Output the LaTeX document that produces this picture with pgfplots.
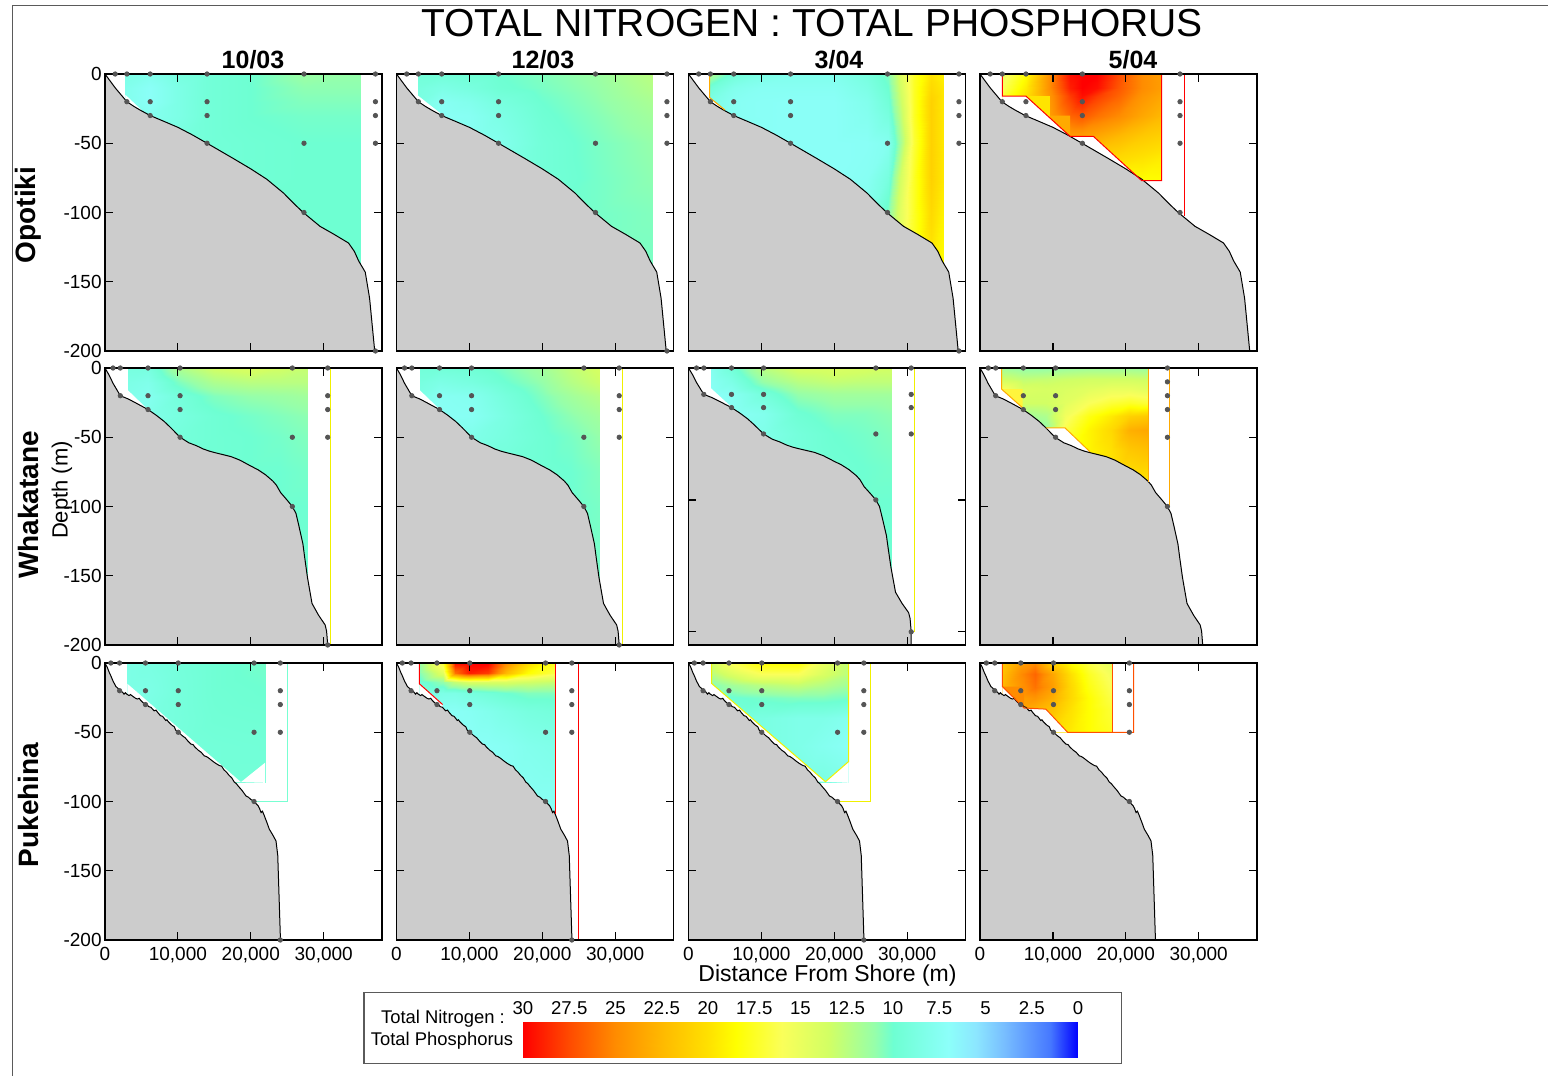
\documentclass[border=0pt]{standalone}
\usepackage{pgfplots}
\pgfplotsset{compat=1.18}
\usepackage{pgfplotstable}
\usepackage{fontspec}
\setmainfont{Liberation Sans}
\definecolor{seabed}{RGB}{204,204,204}
\definecolor{dotc}{RGB}{85,85,85}
\definecolor{lnyellow}{RGB}{240,240,0}
\definecolor{lnorange}{RGB}{255,170,0}
\definecolor{lnred}{RGB}{255,0,0}
\definecolor{lnaqua}{RGB}{120,255,210}
\definecolor{lnor}{RGB}{255,80,0}
\definecolor{blkyel}{RGB}{255,228,0}
\definecolor{blkor}{RGB}{255,170,0}
\definecolor{blkor2}{RGB}{255,140,0}
\definecolor{blkyel2}{RGB}{255,245,60}
\definecolor{framec}{RGB}{90,90,90}
\pgfplotsset{
 colormap={tnp}{rgb255(0pt)=(0,0,255) rgb255(15pt)=(70,120,255) rgb255(40pt)=(120,190,255) rgb255(55pt)=(140,230,255) rgb255(70pt)=(140,255,250) rgb255(100pt)=(110,255,210) rgb255(110pt)=(150,255,170) rgb255(135pt)=(210,255,100) rgb255(160pt)=(250,255,90) rgb255(185pt)=(255,255,0) rgb255(200pt)=(255,225,0) rgb255(225pt)=(255,185,0) rgb255(250pt)=(255,140,0) rgb255(275pt)=(255,75,0) rgb255(300pt)=(255,0,0)},
 panel/.style={
  scale only axis, width=138.5pt, height=138.5pt, anchor=north west,
  xmin=0, xmax=38000, ymin=-200, ymax=0,
  xtick={0,10000,20000,30000}, ytick={-200,-150,-100,-50,0},
  xticklabels={,,,}, yticklabels={,,,,},
  scaled ticks=false,
  tick align=inside, tick pos=both, major tick length=3.8pt,
  axis on top, clip=false,
  axis line style={line width=0.6pt},
  tick style={line width=0.6pt, black},
  tick label style={font=\fontsize{9.5}{11}\selectfont},
  yticklabel style={inner xsep=1.5pt},
  colormap name=tnp, point meta min=0, point meta max=30,
  /pgf/number format/assume math mode=true,
 },
 ylab/.style={yticklabels={-200,-150,-100,-50,0}},
 xlab/.style={xticklabels={0,{10,000},{20,000},{30,000}}},
 dots/.style={only marks, mark=*, mark size=1.1pt, dotc},
 bed/.style={fill=seabed, draw=black, line width=0.5pt},
 mask/.style={fill=white, draw=none},
 field/.style={surf, shader=interp, point meta=\thisrow{c}},
}
% bathymetry profiles
\pgfplotstableread{
x y
0 0
700 -5
1400 -10
2200 -15
3000 -20
4000 -23.5
4800 -26
6200 -30
8000 -34
10000 -38.5
12000 -44
14000 -50
15800 -55.5
17600 -61
20000 -68.5
22200 -76
24500 -86
26000 -94
27200 -100
29500 -110
31500 -116
33400 -122
34200 -128
34800 -135
35700 -143
36300 -162
37000 -200
0 -200
}\profA
\pgfplotstableread{
x y
0 0
550 -5
1100 -11
2100 -20
3250 -22.5
4500 -26
5900 -30
7000 -34
8100 -38.5
9000 -43
10300 -50
11500 -54
12500 -56
13500 -58.5
14300 -60
15000 -61
17300 -64
18500 -66.5
19900 -70.5
21000 -73.5
22000 -77
23000 -81.5
23500 -84.5
24100 -90
25000 -95.5
25700 -100
26200 -105
26600 -114
27150 -127
27400 -137
27770 -151
28000 -158
28400 -170
29300 -178.5
30200 -185.5
30400 -190
30550 -200
0 -200
}\profB
\pgfplotstableread{
x y
0 0
550 -5
1100 -11
2100 -20
3250 -22.5
4500 -26
5900 -30
7000 -34
8100 -38.5
9000 -43
10300 -50
11500 -54
12500 -56
13500 -58.5
14300 -60
15000 -61
17300 -64
18500 -66.5
19900 -70.5
21000 -73.5
22000 -77
23000 -81.5
23500 -84.5
24100 -90
25000 -95.5
25700 -100
26200 -105
26600 -114
27150 -127
27400 -137
27770 -151
28000 -158
28400 -170
29300 -178.5
30200 -185.5
30400 -190
30550 -200
30550 -210
0 -210
}\profBdeep
\pgfplotstableread{
x y
0 0
300 -3
600 -7
780 -9
1100 -13
1500 -17
1930 -19
2200 -20.5
2400 -21
2610 -22.5
2800 -21.5
3000 -22.5
3300 -23.5
3500 -22.8
3800 -24
4200 -25.5
4450 -26
4700 -25.5
4900 -27
5200 -28.5
5500 -30
5800 -30.5
6000 -31.5
6300 -32
6740 -34.5
7000 -34
7200 -35.5
7600 -38
7900 -38.5
8340 -41.5
8500 -41
8700 -42.5
9200 -45
9500 -46
9700 -48.5
10040 -50
10300 -51
10600 -52.5
11000 -54
11400 -56.5
11780 -58.5
12100 -59
12300 -60.5
12800 -63
13200 -64.5
13610 -67
13900 -67.5
14200 -68.5
14800 -71
15200 -72.5
15680 -74
16000 -74.5
16300 -77
16700 -79
17000 -81
17400 -83
17740 -86
18000 -87
18300 -89
18800 -92
19340 -96
19700 -97
20000 -98.5
20490 -100
20700 -101.5
21000 -103
21200 -105
21410 -108
21600 -107
21800 -109.5
22200 -115
22540 -120
23000 -124
23460 -128.5
23700 -139
24070 -200
0 -200
}\profC
% sampling points
\pgfplotstableread{
x y
1400 0
3000 0
3000 -20
6200 0
6200 -20
6200 -30
14000 0
14000 -20
14000 -30
14000 -50
27300 0
27300 -50
27300 -100
37100 0
37100 -20
37100 -30
37100 -50
37100 -200
}\dotsA
\pgfplotstableread{
x y
1400 0
3060 0
3060 -20
6300 0
6300 -20
6300 -30
14040 0
14040 -20
14040 -30
14040 -50
27440 0
27440 -20
27440 -30
27440 -50
27440 -100
}\dotsAD
\pgfplotstableread{
x y
1100 0
2100 0
2100 -20
5900 0
5900 -20
5900 -30
10300 0
10300 -20
10300 -30
10300 -50
25700 0
25700 -50
25700 -100
30550 0
30550 -20
30550 -30
30550 -50
30550 -200
}\dotsB
\pgfplotstableread{
x y
1140 0
2150 0
2150 -20
5940 0
5940 -20
5940 -30
10370 0
10370 -20
10370 -30
10370 -50
25710 0
25710 -10
25710 -20
25710 -30
25710 -50
25710 -100
}\dotsBD
\pgfplotstableread{
x y
800 0
2000 0
2000 -20
5550 0
5550 -20
5550 -30
10050 0
10050 -20
10050 -30
10050 -50
20450 0
20450 -50
20450 -100
24050 0
24050 -20
24050 -30
24050 -50
24050 -200
}\dotsC
\pgfplotstableread{
x y
870 0
2020 0
2020 -20
5590 0
5590 -20
5590 -30
10080 0
10080 -20
10080 -30
10080 -50
20490 0
20490 -20
20490 -30
20490 -50
20490 -100
}\dotsCD
\begin{document}
\begin{tikzpicture}
\useasboundingbox (0pt,0pt) rectangle (774pt,-538pt);
\draw[framec, line width=0.5pt] (6pt,-538pt) -- (6pt,-2.5pt) -- (774pt,-2.5pt);
\node[font=\fontsize{19.5}{22}\selectfont] at (406pt,-11.5pt) {TOTAL NITROGEN : TOTAL PHOSPHORUS};
\node[font=\fontsize{12.5}{14}\selectfont\bfseries] at (126.5pt,-30pt) {10/03};
\node[font=\fontsize{12.5}{14}\selectfont\bfseries] at (271.5pt,-30pt) {12/03};
\node[font=\fontsize{12.5}{14}\selectfont\bfseries] at (419.5pt,-30pt) {3/04};
\node[font=\fontsize{12.5}{14}\selectfont\bfseries] at (566.5pt,-30pt) {5/04};
\node[font=\fontsize{14}{16}\selectfont\bfseries, rotate=90] at (14pt,-107.5pt) {Opotiki};
\node[font=\fontsize{14}{16}\selectfont\bfseries, rotate=90] at (14pt,-252.5pt) {Whakatane};
\node[font=\fontsize{14}{16}\selectfont\bfseries, rotate=90] at (14pt,-402.5pt) {Pukehina};
\node[font=\fontsize{11}{13}\selectfont, rotate=90] at (31pt,-245pt) {Depth (m)};
\node[font=\fontsize{11.5}{13}\selectfont] at (413.75pt,-488pt) {Distance From Shore (m)};

% ---------------- Row 1: Opotiki ----------------
\begin{axis}[panel, ylab, at={(52.5pt,-37pt)}]
\addplot[field, mesh/cols=7] table[row sep=\\]{x y c\\
2800 0 8.5\\ 6200 0 8\\ 10000 0 9\\ 14000 0 9.5\\ 20000 0 10\\ 27300 0 11.2\\ 35100 0 11\\
2800 -10 8\\ 6200 -10 7.2\\ 10000 -10 8.5\\ 14000 -10 9.5\\ 20000 -10 10\\ 27300 -10 10.8\\ 35100 -10 10.8\\
2800 -20 8\\ 6200 -20 7.2\\ 10000 -20 8.5\\ 14000 -20 9.5\\ 20000 -20 10\\ 27300 -20 10.5\\ 35100 -20 10.5\\
2800 -30 8.5\\ 6200 -30 7.8\\ 10000 -30 8.5\\ 14000 -30 9.5\\ 20000 -30 10\\ 27300 -30 10.2\\ 35100 -30 10.2\\
2800 -50 9\\ 6200 -50 8.5\\ 10000 -50 9\\ 14000 -50 9.5\\ 20000 -50 9.8\\ 27300 -50 10\\ 35100 -50 10\\
2800 -75 9.5\\ 6200 -75 9.5\\ 10000 -75 9.5\\ 14000 -75 9.5\\ 20000 -75 9.8\\ 27300 -75 10\\ 35100 -75 10\\
2800 -100 9.8\\ 6200 -100 9.8\\ 10000 -100 9.8\\ 14000 -100 9.8\\ 20000 -100 10\\ 27300 -100 10\\ 35100 -100 10\\
2800 -140 10\\ 6200 -140 10\\ 10000 -140 10\\ 14000 -140 10\\ 20000 -140 10\\ 27300 -140 10\\ 35100 -140 10\\
};
\addplot[mask] table[row sep=\\]{x y\\ 2800 -15\\ 5000 -26\\ 5000 -40\\ 2800 -40\\};
\addplot[bed] table {\profA};
\addplot[dots] table {\dotsA};
\end{axis}

\begin{axis}[panel, at={(198.25pt,-37pt)}]
\addplot[field, mesh/cols=7] table[row sep=\\]{x y c\\
2900 0 9.5\\ 6200 0 9.5\\ 10000 0 9.8\\ 14000 0 10\\ 20000 0 10.5\\ 27400 0 11.2\\ 35080 0 12.5\\
2900 -10 9\\ 6200 -10 8.5\\ 10000 -10 9\\ 14000 -10 9.8\\ 20000 -10 10.3\\ 27400 -10 11\\ 35080 -10 12.2\\
2900 -20 8.8\\ 6200 -20 7.5\\ 10000 -20 8\\ 14000 -20 9\\ 20000 -20 10\\ 27400 -20 10.8\\ 35080 -20 11.8\\
2900 -30 8.8\\ 6200 -30 7.3\\ 10000 -30 7.5\\ 14000 -30 8.5\\ 20000 -30 9.8\\ 27400 -30 10.6\\ 35080 -30 11.5\\
2900 -50 9\\ 6200 -50 8\\ 10000 -50 7.5\\ 14000 -50 8\\ 20000 -50 9.5\\ 27400 -50 10.3\\ 35080 -50 11\\
2900 -75 9.5\\ 6200 -75 9\\ 10000 -75 8.5\\ 14000 -75 8.5\\ 20000 -75 9.5\\ 27400 -75 10.2\\ 35080 -75 10.8\\
2900 -100 10\\ 6200 -100 10\\ 10000 -100 9.8\\ 14000 -100 9.5\\ 20000 -100 9.8\\ 27400 -100 10.2\\ 35080 -100 10.5\\
2900 -140 10\\ 6200 -140 10\\ 10000 -140 10\\ 14000 -140 10\\ 20000 -140 10\\ 27400 -140 10.2\\ 35080 -140 10.3\\
};
\addplot[mask] table[row sep=\\]{x y\\ 2900 -15.4\\ 5940 -28\\ 5940 -40\\ 2900 -40\\};
\addplot[bed] table {\profA};
\addplot[dots] table {\dotsA};
\end{axis}

\begin{axis}[panel, at={(344.25pt,-37pt)}]
\addplot[field, mesh/cols=11] table[row sep=\\]{x y c\\
2900 0 12\\ 6200 0 9.5\\ 10000 0 8.5\\ 14000 0 8\\ 20000 0 8\\ 24500 0 9\\ 27400 0 10.5\\ 29000 0 14\\ 31000 0 17.5\\ 33300 0 20\\ 35030 0 19\\
2900 -10 9.5\\ 6200 -10 8\\ 10000 -10 7.5\\ 14000 -10 7.5\\ 20000 -10 7.5\\ 24500 -10 8.5\\ 27400 -10 10\\ 29000 -10 13.5\\ 31000 -10 17.5\\ 33300 -10 20.5\\ 35030 -10 19.5\\
2900 -20 8.5\\ 6200 -20 7.5\\ 10000 -20 7.3\\ 14000 -20 7.2\\ 20000 -20 7.2\\ 24500 -20 8\\ 27400 -20 9.5\\ 29000 -20 13\\ 31000 -20 17.5\\ 33300 -20 21\\ 35030 -20 19.5\\
2900 -30 8.5\\ 6200 -30 7.5\\ 10000 -30 7.3\\ 14000 -30 7.2\\ 20000 -30 7.2\\ 24500 -30 7.8\\ 27400 -30 9\\ 29000 -30 12.5\\ 31000 -30 17.5\\ 33300 -30 21\\ 35030 -30 19.5\\
2900 -50 8.5\\ 6200 -50 8\\ 10000 -50 7.3\\ 14000 -50 7.2\\ 20000 -50 7.2\\ 24500 -50 7.3\\ 27400 -50 7.8\\ 29000 -50 11.5\\ 31000 -50 17\\ 33300 -50 21\\ 35030 -50 19.5\\
2900 -75 8.5\\ 6200 -75 8\\ 10000 -75 7.5\\ 14000 -75 7.2\\ 20000 -75 7.2\\ 24500 -75 7.5\\ 27400 -75 9\\ 29000 -75 13.5\\ 31000 -75 17.5\\ 33300 -75 21\\ 35030 -75 19.5\\
2900 -100 8.5\\ 6200 -100 8.5\\ 10000 -100 8\\ 14000 -100 7.5\\ 20000 -100 7.5\\ 24500 -100 8\\ 27400 -100 10.5\\ 29000 -100 14.5\\ 31000 -100 17.5\\ 33300 -100 20.5\\ 35030 -100 19\\
2900 -140 8.5\\ 6200 -140 8.5\\ 10000 -140 8\\ 14000 -140 7.5\\ 20000 -140 7.5\\ 24500 -140 8.5\\ 27400 -140 11\\ 29000 -140 15\\ 31000 -140 17.5\\ 33300 -140 19.5\\ 35030 -140 18.5\\
};
\addplot[mask] table[row sep=\\]{x y\\ 2900 -17\\ 5000 -26\\ 5000 -40\\ 2900 -40\\};
\addplot[bed] table {\profA};
\addplot[lnorange, line width=0.5pt] table[row sep=\\]{x y\\ 2900 0\\ 2900 -17\\ 5000 -26\\};
\addplot[lnyellow, line width=0.8pt] table[row sep=\\]{x y\\ 0 -199.5\\ 37000 -199.5\\};
\addplot[dots] table {\dotsA};
\end{axis}

\begin{axis}[panel, at={(490pt,-37pt)}]
\addplot[field, mesh/cols=9] table[row sep=\\]{x y c\\
3060 0 15\\ 6310 0 18.5\\ 9600 0 25\\ 12350 0 29.5\\ 14040 0 30\\ 16000 0 30\\ 19000 0 27.5\\ 22180 0 25\\ 24920 0 24\\
3060 -10 16\\ 6310 -10 19.5\\ 9600 -10 25\\ 12350 -10 29\\ 14040 -10 30\\ 16000 -10 29.5\\ 19000 -10 27\\ 22180 -10 25\\ 24920 -10 24\\
3060 -16 17\\ 6310 -16 20\\ 9600 -16 24.5\\ 12350 -16 28\\ 14040 -16 29.5\\ 16000 -16 28\\ 19000 -16 26.5\\ 22180 -16 24.5\\ 24920 -16 23.5\\
3060 -30 18\\ 6310 -30 20\\ 9600 -30 24\\ 12350 -30 26.5\\ 14040 -30 27\\ 16000 -30 26\\ 19000 -30 25\\ 22180 -30 23.5\\ 24920 -30 22.5\\
3060 -45 18.5\\ 6310 -45 20\\ 9600 -45 23\\ 12350 -45 24\\ 14040 -45 24\\ 16000 -45 23.5\\ 19000 -45 22.5\\ 22180 -45 21.5\\ 24920 -45 21\\
3060 -60 19\\ 6310 -60 19.5\\ 9600 -60 21\\ 12350 -60 21.5\\ 14040 -60 21.5\\ 16000 -60 21\\ 19000 -60 20.5\\ 22180 -60 20\\ 24920 -60 19.5\\
3060 -77 18.5\\ 6310 -77 19\\ 9600 -77 19.5\\ 12350 -77 19.5\\ 14040 -77 19.5\\ 16000 -77 19\\ 19000 -77 18.5\\ 22180 -77 18.5\\ 24920 -77 18.5\\
};
\addplot[mask] table[row sep=\\]{x y\\ 3060 -16\\ 6310 -16\\ 12350 -45\\ 15550 -45\\ 22180 -77\\ 3060 -77\\};
\addplot[fill=blkyel, draw=none] table[row sep=\\]{x y\\ 6310 -16\\ 9600 -16\\ 9600 -31.8\\};
\addplot[fill=blkor, draw=none] table[row sep=\\]{x y\\ 9600 -31.8\\ 9600 -30\\ 12350 -30\\ 12350 -45\\};
\addplot[bed] table {\profA};
\addplot[lnred, line width=0.5pt] table[row sep=\\]{x y\\ 3060 0\\ 3060 -16\\ 6310 -16\\ 12350 -45\\ 15550 -45\\ 22180 -77\\ 24920 -77\\ 24920 0\\};
\addplot[lnred, line width=0.5pt] table[row sep=\\]{x y\\ 28030 0\\ 28030 -102.5\\};
\addplot[dots] table {\dotsAD};
\end{axis}

% ---------------- Row 2: Whakatane ----------------
\begin{axis}[panel, ylab, at={(52.5pt,-184pt)}]
\addplot[field, mesh/cols=7] table[row sep=\\]{x y c\\
3130 0 9\\ 5880 0 9\\ 10300 0 12\\ 15000 0 13.5\\ 20000 0 14\\ 24000 0 13.5\\ 27770 0 13\\
3130 -10 8.5\\ 5880 -10 8.2\\ 10300 -10 10.5\\ 15000 -10 12\\ 20000 -10 12.5\\ 24000 -10 12.5\\ 27770 -10 12.5\\
3130 -20 8.2\\ 5880 -20 7.8\\ 10300 -20 9.3\\ 15000 -20 10.5\\ 20000 -20 11\\ 24000 -20 11.2\\ 27770 -20 11.5\\
3130 -35 8.3\\ 5880 -35 8.2\\ 10300 -35 9\\ 15000 -35 9.8\\ 20000 -35 10.2\\ 24000 -35 10.5\\ 27770 -35 10.8\\
3130 -50 8.8\\ 5880 -50 8.8\\ 10300 -50 9.3\\ 15000 -50 9.8\\ 20000 -50 10\\ 24000 -50 10.2\\ 27770 -50 10.5\\
3130 -75 9.3\\ 5880 -75 9.3\\ 10300 -75 9.5\\ 15000 -75 9.8\\ 20000 -75 10\\ 24000 -75 10\\ 27770 -75 10.2\\
3130 -100 9.8\\ 5880 -100 9.8\\ 10300 -100 9.8\\ 15000 -100 10\\ 20000 -100 10\\ 24000 -100 10\\ 27770 -100 10\\
3130 -151 10\\ 5880 -151 10\\ 10300 -151 10\\ 15000 -151 10\\ 20000 -151 10\\ 24000 -151 10\\ 27770 -151 10\\
};
\addplot[mask] table[row sep=\\]{x y\\ 3130 -16\\ 5880 -30\\ 5880 -40\\ 3130 -40\\};
\addplot[bed] table {\profB};
\addplot[lnyellow, line width=0.5pt] table[row sep=\\]{x y\\ 30950 0\\ 30950 -200\\};
\addplot[dots] table {\dotsB};
\end{axis}

\begin{axis}[panel, at={(198.25pt,-184pt)}]
\addplot[field, mesh/cols=7] table[row sep=\\]{x y c\\
3190 0 9.5\\ 5950 0 9.5\\ 10300 0 9.8\\ 15000 0 10.5\\ 20000 0 11.5\\ 24000 0 12.8\\ 27890 0 13.8\\
3190 -10 9\\ 5950 -10 8.5\\ 10300 -10 9\\ 15000 -10 10\\ 20000 -10 11\\ 24000 -10 12.3\\ 27890 -10 13.3\\
3190 -20 8.5\\ 5950 -20 7.5\\ 10300 -20 7.8\\ 15000 -20 9.2\\ 20000 -20 10.5\\ 24000 -20 11.5\\ 27890 -20 12.3\\
3190 -35 8.5\\ 5950 -35 7.3\\ 10300 -35 7.5\\ 15000 -35 8.8\\ 20000 -35 10\\ 24000 -35 10.8\\ 27890 -35 11.5\\
3190 -50 9\\ 5950 -50 8.3\\ 10300 -50 8.3\\ 15000 -50 9\\ 20000 -50 9.8\\ 24000 -50 10.3\\ 27890 -50 11\\
3190 -75 9.5\\ 5950 -75 9.3\\ 10300 -75 9.3\\ 15000 -75 9.5\\ 20000 -75 9.8\\ 24000 -75 10\\ 27890 -75 10.5\\
3190 -100 10\\ 5950 -100 10\\ 10300 -100 10\\ 15000 -100 10\\ 20000 -100 10\\ 24000 -100 10\\ 27890 -100 10.3\\
3190 -156 10\\ 5950 -156 10\\ 10300 -156 10\\ 15000 -156 10\\ 20000 -156 10\\ 24000 -156 10\\ 27890 -156 10.2\\
};
\addplot[mask] table[row sep=\\]{x y\\ 3190 -16\\ 5950 -30\\ 5950 -40\\ 3190 -40\\};
\addplot[bed] table {\profB};
\addplot[lnyellow, line width=0.5pt] table[row sep=\\]{x y\\ 31070 0\\ 31070 -200\\};
\addplot[dots] table {\dotsB};
\end{axis}

\begin{axis}[panel, at={(344.25pt,-184pt)}, ymin=-210, ytick={-200,-100,0}]
\addplot[field, mesh/cols=7] table[row sep=\\]{x y c\\
3110 0 7.8\\ 5860 0 9.5\\ 10300 0 12.5\\ 15000 0 13.8\\ 20000 0 14\\ 24000 0 13.8\\ 27840 0 13.5\\
3110 -10 7.5\\ 5860 -10 8.5\\ 10300 -10 11.2\\ 15000 -10 12.5\\ 20000 -10 13\\ 24000 -10 12.8\\ 27840 -10 12.8\\
3110 -20 7.3\\ 5860 -20 7.5\\ 10300 -20 9.3\\ 15000 -20 11\\ 20000 -20 11.5\\ 24000 -20 11.5\\ 27840 -20 11.5\\
3110 -35 7.3\\ 5860 -35 7.3\\ 10300 -35 8\\ 15000 -35 9.8\\ 20000 -35 10.5\\ 24000 -35 10.5\\ 27840 -35 10.8\\
3110 -50 7.8\\ 5860 -50 7.8\\ 10300 -50 8.3\\ 15000 -50 9.3\\ 20000 -50 10\\ 24000 -50 10.2\\ 27840 -50 10.5\\
3110 -75 8.8\\ 5860 -75 8.8\\ 10300 -75 8.8\\ 15000 -75 9.3\\ 20000 -75 9.8\\ 24000 -75 10\\ 27840 -75 10.2\\
3110 -100 9.3\\ 5860 -100 9.3\\ 10300 -100 9.3\\ 15000 -100 9.5\\ 20000 -100 9.8\\ 24000 -100 10\\ 27840 -100 10\\
3110 -158 10\\ 5860 -158 10\\ 10300 -158 10\\ 15000 -158 10\\ 20000 -158 10\\ 24000 -158 10\\ 27840 -158 10\\
};
\addplot[mask] table[row sep=\\]{x y\\ 3110 -15.5\\ 5860 -29.4\\ 5860 -40\\ 3110 -40\\};
\addplot[bed] table {\profBdeep};
\addplot[lnyellow, line width=0.5pt] table[row sep=\\]{x y\\ 31040 0\\ 31040 -200\\};
\addplot[dots] table {\dotsB};
\end{axis}

\begin{axis}[panel, at={(490pt,-184pt)}]
\addplot[field, mesh/cols=8] table[row sep=\\]{x y c\\
2970 0 11.5\\ 5940 0 11\\ 9040 0 11\\ 11650 0 11.3\\ 15000 0 11.5\\ 18000 0 11.5\\ 20500 0 11.5\\ 23060 0 11.3\\
2970 -8 13.5\\ 5940 -8 12.8\\ 9040 -8 13\\ 11650 -8 13.3\\ 15000 -8 13.5\\ 18000 -8 13.5\\ 20500 -8 13.5\\ 23060 -8 13.3\\
2970 -15 16\\ 5940 -15 14\\ 9040 -15 13.8\\ 11650 -15 14\\ 15000 -15 14.5\\ 18000 -15 15\\ 20500 -15 15\\ 23060 -15 14.5\\
2970 -25 17.5\\ 5940 -25 13.5\\ 9040 -25 13.5\\ 11650 -25 14.5\\ 15000 -25 16\\ 18000 -25 17\\ 20500 -25 17.5\\ 23060 -25 17\\
2970 -35 17.5\\ 5940 -35 11.5\\ 9040 -35 12\\ 11650 -35 15.5\\ 15000 -35 18\\ 18000 -35 19.5\\ 20500 -35 21\\ 23060 -35 21.5\\
2970 -45 17.5\\ 5940 -45 10.5\\ 9040 -45 11\\ 11650 -45 16.5\\ 15000 -45 19\\ 18000 -45 20.5\\ 20500 -45 23\\ 23060 -45 23.5\\
2970 -60 17.5\\ 5940 -60 11.5\\ 9040 -60 13.5\\ 11650 -60 17.5\\ 15000 -60 19\\ 18000 -60 20\\ 20500 -60 21.5\\ 23060 -60 22\\
2970 -85 17.5\\ 5940 -85 15\\ 9040 -85 16.5\\ 11650 -85 18\\ 15000 -85 19\\ 18000 -85 19.5\\ 20500 -85 19.5\\ 23060 -85 19.5\\
};
\addplot[mask] table[row sep=\\]{x y\\ 2970 -15.3\\ 5850 -28.8\\ 5850 -40\\ 2970 -40\\};
\addplot[mask] table[row sep=\\]{x y\\ 9040 -43.2\\ 11650 -43.2\\ 15070 -60.4\\ 15070 -70\\ 9040 -70\\};
\addplot[fill=blkyel2, draw=none] table[row sep=\\]{x y\\ 2970 -15.3\\ 5850 -15.3\\ 5850 -28.8\\};
\addplot[bed] table {\profB};
\addplot[lnorange, line width=0.5pt] table[row sep=\\]{x y\\ 2970 0\\ 2970 -15.3\\ 5850 -28.8\\};
\addplot[lnorange, line width=0.5pt] table[row sep=\\]{x y\\ 9040 -43.2\\ 11650 -43.2\\ 15070 -60.4\\};
\addplot[lnorange, line width=0.5pt] table[row sep=\\]{x y\\ 23060 -82\\ 23060 0\\};
\addplot[lnorange, line width=0.5pt] table[row sep=\\]{x y\\ 25940 0\\ 25940 -100\\};
\addplot[dots] table {\dotsBD};
\end{axis}

% ---------------- Row 3: Pukehina ----------------
\begin{axis}[panel, ylab, xlab, at={(52.5pt,-331.5pt)}]
\addplot[field, mesh/cols=5] table[row sep=\\]{x y c\\
3070 0 8.5\\ 6000 0 8.8\\ 10000 0 9.3\\ 15000 0 9.8\\ 21960 0 10.2\\
3070 -20 8.5\\ 6000 -20 8.5\\ 10000 -20 9.2\\ 15000 -20 9.8\\ 21960 -20 10\\
3070 -40 9\\ 6000 -40 8.8\\ 10000 -40 9.2\\ 15000 -40 9.7\\ 21960 -40 9.8\\
3070 -60 9.3\\ 6000 -60 9.3\\ 10000 -60 9.3\\ 15000 -60 9.5\\ 21960 -60 9.6\\
3070 -86 9.5\\ 6000 -86 9.5\\ 10000 -86 9.5\\ 15000 -86 9.5\\ 21960 -86 9.5\\
};
\addplot[mask] table[row sep=\\]{x y\\ 3070 -15\\ 18650 -86\\ 3070 -86\\};
\addplot[mask] table[row sep=\\]{x y\\ 18650 -86\\ 21960 -72\\ 21960 -86.5\\};
\addplot[bed] table {\profC};
\addplot[lnaqua, line width=0.5pt] table[row sep=\\]{x y\\ 24980 0\\ 24980 -100\\ 20030 -100\\};
\addplot[dots] table {\dotsC};
\end{axis}

\begin{axis}[panel, xlab, at={(198.25pt,-331.5pt)}]
\addplot[field, mesh/cols=8] table[row sep=\\]{x y c\\
3140 0 11\\ 6330 0 17\\ 8000 0 29.5\\ 10000 0 30\\ 12500 0 30\\ 15000 0 25\\ 18000 0 20.5\\ 21820 0 17.5\\
3140 -7 10.5\\ 6330 -7 14.5\\ 8000 -7 26\\ 10000 -7 29\\ 12500 -7 28\\ 15000 -7 22.5\\ 18000 -7 18.5\\ 21820 -7 16.5\\
3140 -14 9.5\\ 6330 -14 11\\ 8000 -14 13\\ 10000 -14 14\\ 12500 -14 14\\ 15000 -14 14\\ 18000 -14 13.5\\ 21820 -14 13\\
3140 -22 8.5\\ 6330 -22 8.5\\ 8000 -22 8.5\\ 10000 -22 9\\ 12500 -22 9.5\\ 15000 -22 10\\ 18000 -22 10.5\\ 21820 -22 10.5\\
3140 -35 7.8\\ 6330 -35 7.3\\ 8000 -35 7.3\\ 10000 -35 7.5\\ 12500 -35 8\\ 15000 -35 8.5\\ 18000 -35 9\\ 21820 -35 9.3\\
3140 -60 7.3\\ 6330 -60 7.3\\ 8000 -60 7.2\\ 10000 -60 7.2\\ 12500 -60 7.3\\ 15000 -60 7.5\\ 18000 -60 8\\ 21820 -60 8.3\\
3140 -110 7.3\\ 6330 -110 7.3\\ 8000 -110 7.3\\ 10000 -110 7.3\\ 12500 -110 7.3\\ 15000 -110 7.3\\ 18000 -110 7.3\\ 21820 -110 7.3\\
};
\addplot[mask] table[row sep=\\]{x y\\ 3140 -15\\ 6330 -30\\ 6330 -40\\ 3140 -40\\};
\addplot[bed] table {\profC};
\addplot[lnred, line width=0.5pt] table[row sep=\\]{x y\\ 3140 0\\ 3140 -15\\ 6330 -30\\};
\addplot[lnred, line width=0.5pt] table[row sep=\\]{x y\\ 21820 -109\\ 21820 0\\};
\addplot[lnred, line width=0.5pt] table[row sep=\\]{x y\\ 25010 0\\ 25010 -200\\};
\addplot[dots] table {\dotsC};
\end{axis}

\begin{axis}[panel, xlab, at={(344.25pt,-331.5pt)}]
\addplot[field, mesh/cols=6] table[row sep=\\]{x y c\\
3160 0 13.5\\ 5630 0 16\\ 10100 0 18.5\\ 15000 0 18.5\\ 18500 0 15\\ 21950 0 12.8\\
3160 -8 12.5\\ 5630 -8 14\\ 10100 -8 16\\ 15000 -8 16\\ 18500 -8 14\\ 21950 -8 12.5\\
3160 -16 10.5\\ 5630 -16 11.5\\ 10100 -16 12.5\\ 15000 -16 13\\ 18500 -16 12.3\\ 21950 -16 11.5\\
3160 -25 9.8\\ 5630 -25 9.8\\ 10100 -25 10.2\\ 15000 -25 10.5\\ 18500 -25 10.5\\ 21950 -25 10.2\\
3160 -40 9.3\\ 5630 -40 9.3\\ 10100 -40 8.8\\ 15000 -40 8.3\\ 18500 -40 8.3\\ 21950 -40 7.8\\
3160 -60 9.3\\ 5630 -60 9.3\\ 10100 -60 8.8\\ 15000 -60 8.3\\ 18500 -60 7.8\\ 21950 -60 7.3\\
3160 -86 9.5\\ 5630 -86 9.5\\ 10100 -86 9.3\\ 15000 -86 8.8\\ 18500 -86 8.8\\ 21950 -86 8.3\\
};
\addplot[mask] table[row sep=\\]{x y\\ 3160 -14.7\\ 18790 -85.7\\ 3160 -85.7\\};
\addplot[mask] table[row sep=\\]{x y\\ 18790 -85.7\\ 21950 -71.2\\ 21950 -86.5\\};
\addplot[bed] table {\profC};
\addplot[lnyellow, line width=0.5pt] table[row sep=\\]{x y\\ 3160 0\\ 3160 -14.7\\ 18790 -85.7\\ 21950 -71.2\\ 21950 0\\};
\addplot[lnyellow, line width=0.5pt] table[row sep=\\]{x y\\ 24950 0\\ 24950 -100\\ 20370 -100\\};
\addplot[dots] table {\dotsC};
\end{axis}

\begin{axis}[panel, xlab, at={(490pt,-331.5pt)}]
\addplot[field, mesh/cols=7] table[row sep=\\]{x y c\\
3070 0 21.5\\ 5590 0 24\\ 7500 0 25\\ 10080 0 21\\ 12500 0 18.5\\ 15000 0 16.5\\ 18110 0 14.5\\
3070 -8 22\\ 5590 -8 25\\ 7500 -8 26.5\\ 10080 -8 23.5\\ 12500 -8 20\\ 15000 -8 17.5\\ 18110 -8 15.5\\
3070 -17 22.5\\ 5590 -17 24.5\\ 7500 -17 26\\ 10080 -17 24\\ 12500 -17 20.5\\ 15000 -17 18\\ 18110 -17 16\\
3070 -25 23\\ 5590 -25 24\\ 7500 -25 24.5\\ 10080 -25 23\\ 12500 -25 20.5\\ 15000 -25 18.5\\ 18110 -25 16.5\\
3070 -33 23.5\\ 5590 -33 23.5\\ 7500 -33 23\\ 10080 -33 22\\ 12500 -33 20\\ 15000 -33 18.5\\ 18110 -33 17\\
3070 -50 22.5\\ 5590 -50 22\\ 7500 -50 21\\ 10080 -50 20.5\\ 12500 -50 19.5\\ 15000 -50 18.5\\ 18110 -50 17.5\\
};
\addplot[mask] table[row sep=\\]{x y\\ 3070 -17\\ 6050 -32.5\\ 9030 -33.3\\ 12010 -50\\ 3070 -50\\};
\addplot[fill=blkor2, draw=none] table[row sep=\\]{x y\\ 3070 -17\\ 6050 -17\\ 6050 -32.5\\};
\addplot[bed] table {\profC};
\addplot[lnor, line width=0.5pt] table[row sep=\\]{x y\\ 3070 0\\ 3070 -17\\ 6050 -32.5\\ 9030 -33.3\\ 12010 -50\\ 21090 -50\\ 21090 0\\};
\addplot[lnor, line width=0.5pt] table[row sep=\\]{x y\\ 18110 -50\\ 18110 0\\};
\addplot[dots] table {\dotsCD};
\end{axis}

% ---------------- colour scale ----------------
\draw[line width=0.6pt, framec] (181.95pt,-496.15pt) rectangle (560.65pt,-531.65pt);
\node[font=\fontsize{9.2}{11}\selectfont] at (221.5pt,-509.5pt) {Total Nitrogen :};
\node[font=\fontsize{9.2}{11}\selectfont] at (221pt,-520.5pt) {Total Phosphorus};
\begin{axis}[at={(261.5pt,-511pt)}, anchor=north west, scale only axis, width=277.5pt, height=17.5pt,
 xmin=0, xmax=30, ymin=0, ymax=1, x dir=reverse, axis line style={draw=none},
 ytick=\empty, xtick={0,2.5,5,7.5,10,12.5,15,17.5,20,22.5,25,27.5,30},
 xticklabels={0,2.5,5,7.5,10,12.5,15,17.5,20,22.5,25,27.5,30},
 xticklabel pos=upper, major tick length=0pt, xtick style={draw=none},
 colormap name=tnp, point meta min=0, point meta max=30,
 xticklabel style={font=\fontsize{9.3}{10}\selectfont}]
\addplot[surf, shader=interp, mesh/cols=2, point meta=\thisrow{c}] table[row sep=\\]{x y c\\ 0 0 0\\ 30 0 30\\ 0 1 0\\ 30 1 30\\};
\end{axis}
\end{tikzpicture}
\end{document}
